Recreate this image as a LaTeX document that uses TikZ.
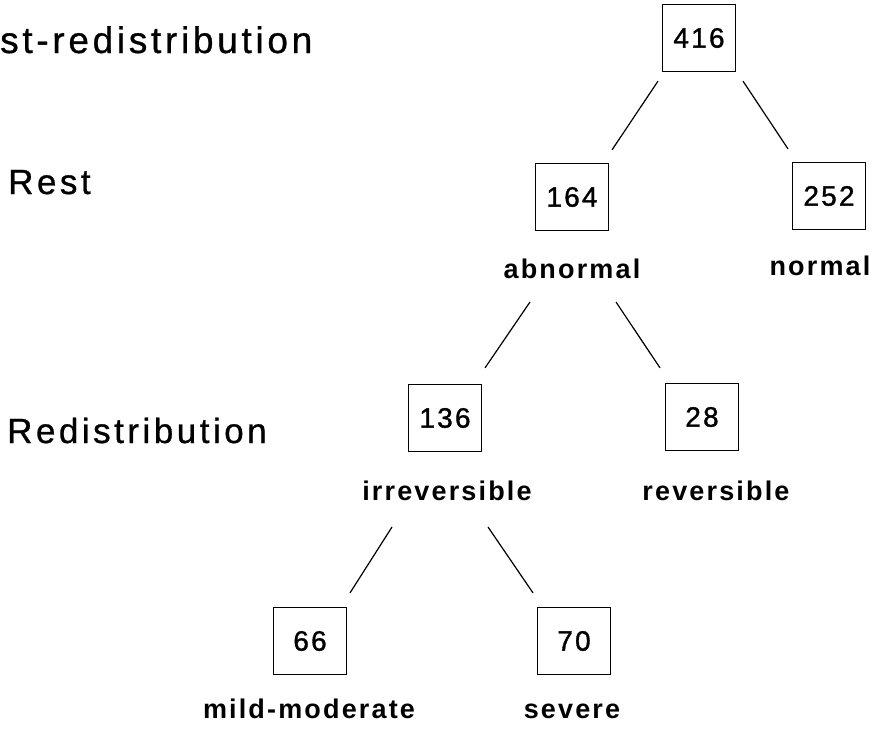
\documentclass[tikz,border=0pt]{standalone}
\usepackage{fontspec}
\setmainfont{Liberation Sans}
\newfontfamily\numfont[LetterSpace=8, FakeBold=1.2]{Liberation Sans}
\newfontfamily\branchfont[LetterSpace=8]{Liberation Sans}
\newfontfamily\wordfont[LetterSpace=10, FakeBold=0.8]{Liberation Sans}

\begin{document}
\begin{tikzpicture}[x=1pt, y=-1pt,
  numbox/.style={draw, line width=1.2pt, minimum width=73pt, minimum height=67pt, inner sep=0pt, font=\numfont\fontsize{28}{32}\selectfont},
  branch/.style={anchor=base, inner sep=0pt, font=\branchfont\bfseries\fontsize{27}{32}\selectfont},
  rowlabel/.style={anchor=base west, inner sep=0pt, font=\wordfont\fontsize{35}{40}\selectfont},
  link/.style={line width=1.2pt}]
  \useasboundingbox (0,0) rectangle (886,729);

  % row titles
  \node[rowlabel, font=\wordfont\fontsize{37}{42}\selectfont] (title) at (0,53) {st-redistribution};
  \node[rowlabel] (rest) at (8,194) {Rest};
  \node[rowlabel] (redis) at (7,443) {Redistribution};

  % counts
  \node[numbox] (n416) at (699,38) {416};
  \node[numbox] (n164) at (572,197) {164};
  \node[numbox] (n252) at (829,196) {252};
  \node[numbox] (n136) at (445,418) {136};
  \node[numbox] (n28) at (702,417) {28};
  \node[numbox] (n66) at (310,641) {66};
  \node[numbox] (n70) at (574,641) {70};

  % branch names
  \node[branch] (abn) at (572,278) {abnormal};
  \node[branch] (norm) at (820,275) {normal};
  \node[branch] (irr) at (447,500) {irreversible};
  \node[branch] (rev) at (716,500) {reversible};
  \node[branch] (mild) at (309,718) {mild-moderate};
  \node[branch] (sev) at (572,718) {severe};

  % tree lines
  \draw[link] ([xshift=-41pt,yshift=-9pt]n416.south) -- ([xshift=40pt,yshift=13pt]n164.north);
  \draw[link] ([xshift=44pt,yshift=-9pt]n416.south) -- ([xshift=-41pt,yshift=13pt]n252.north);
  \draw[link] ([xshift=-42pt,yshift=-24pt]abn.base) -- ([xshift=40pt,yshift=16pt]n136.north);
  \draw[link] ([xshift=44pt,yshift=-24pt]abn.base) -- ([xshift=-42pt,yshift=15pt]n28.north);
  \draw[link] ([xshift=-55pt,yshift=-27pt]irr.base) -- ([xshift=40pt,yshift=14pt]n66.north);
  \draw[link] ([xshift=41pt,yshift=-27pt]irr.base) -- ([xshift=-41pt,yshift=14pt]n70.north);
\end{tikzpicture}
\end{document}
